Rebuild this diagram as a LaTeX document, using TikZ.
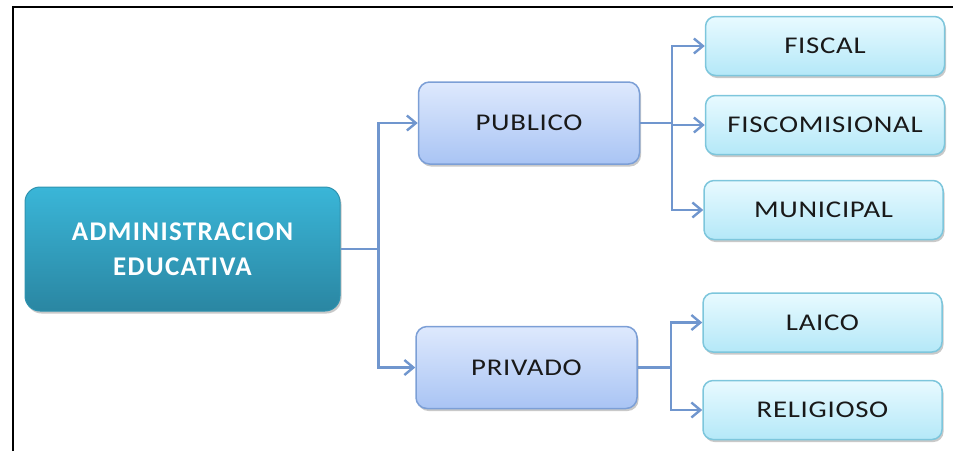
\documentclass[tikz,border=0pt]{standalone}
\usepackage{fontspec}
\setmainfont{Carlito}
\newfontfamily\boxfont[FakeStretch=1.2,LetterSpace=3]{Carlito}
\newfontfamily\headfont[LetterSpace=5]{Carlito}
\usepackage{tikz}
\usetikzlibrary{arrows.meta,shadows}

\definecolor{linkblue}{HTML}{7096CE}
\definecolor{tealtop}{HTML}{3AB6D8}
\definecolor{tealbot}{HTML}{2A86A2}
\definecolor{tealline}{HTML}{2F93B0}
\definecolor{bluetop}{HTML}{DEE9FD}
\definecolor{bluebot}{HTML}{A9C4F4}
\definecolor{blueline}{HTML}{7C9FD6}
\definecolor{cyantop}{HTML}{E8FAFF}
\definecolor{cyanbot}{HTML}{B4E8F8}
\definecolor{cyanline}{HTML}{7DC6DC}

\tikzset{
  boxshadow/.style={drop shadow={shadow xshift=1.5pt,shadow yshift=-2.5pt,opacity=0.3,fill=black!70}},
  rootbox/.style={rectangle,rounded corners=15pt,draw=tealline,line width=1pt,
    top color=tealtop,bottom color=tealbot,boxshadow,
    minimum width=315pt,minimum height=124pt,align=center,text=white,
    font=\headfont\bfseries\fontsize{27}{35}\selectfont},
  midbox/.style={rectangle,rounded corners=11pt,draw=blueline,line width=1.5pt,
    top color=bluetop,bottom color=bluebot,boxshadow,
    minimum width=221pt,minimum height=82pt,text=black!90,
    font=\boxfont\fontsize{24}{28}\selectfont},
  leafbox/.style={rectangle,rounded corners=10pt,draw=cyanline,line width=1.5pt,
    top color=cyantop,bottom color=cyanbot,boxshadow,
    minimum width=239pt,minimum height=59pt,text=black!90,
    font=\boxfont\fontsize{24}{28}\selectfont},
  link/.style={draw=linkblue,line width=2.4pt,-{Straight Barb[length=9pt,width=15pt]}}
}

\begin{document}
\begin{tikzpicture}[x=1pt,y=-1pt]
        \useasboundingbox (0,0) rectangle (957,451);
        % frame
        \draw[line width=2.5pt] (13,451) -- (13,7) -- (953,7);

        \node[rootbox] at (182.5,249) (admin) {ADMINISTRACION\\EDUCATIVA};

        \node[midbox] at (529,123) (publico) {PUBLICO};
        \node[midbox] at (526.5,367.5) (privado) {PRIVADO};

        \node[leafbox] at (825,46) (fiscal) {FISCAL};
        \node[leafbox] at (825,125) (fiscomisional) {FISCOMISIONAL};
        \node[leafbox] at (823.5,210) (municipal) {MUNICIPAL};
        \node[leafbox] at (822.5,322.5) (laico) {LAICO};
        \node[leafbox] at (822.5,410) (religioso) {RELIGIOSO};

        \draw[link] (admin.east) -- ++(38,0) |- (publico);
        \draw[link] (admin.east) -- ++(38,0) |- (privado);

        \draw[link] (publico.east) -- ++(32,0) |- (fiscal);
        \draw[link] (publico.east) -- ++(32,0) |- (fiscomisional);
        \draw[link] (publico.east) -- ++(32,0) |- (municipal);

        \draw[link] (privado.east) -- ++(33,0) |- (laico);
        \draw[link] (privado.east) -- ++(33,0) |- (religioso);

    \end{tikzpicture}
\end{document}
